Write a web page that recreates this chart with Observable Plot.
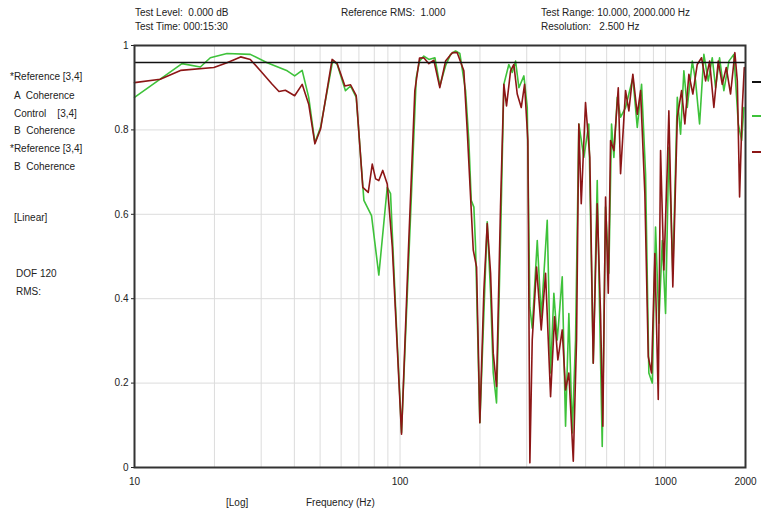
<!DOCTYPE html>
<html><head><meta charset="utf-8">
<script src="https://cdn.jsdelivr.net/npm/d3@7"></script>
<script src="https://cdn.jsdelivr.net/npm/@observablehq/plot@0.6"></script>
<style>
body{margin:0;background:#fff;}
#wrap{position:relative;width:761px;height:512px;overflow:hidden;font-family:"Liberation Sans",Arial,sans-serif;font-size:10px;color:#222;}
#wrap svg{position:absolute;left:0;top:0;}
.t{position:absolute;white-space:pre;line-height:10px;}
.sw{position:absolute;height:2px;width:9px;}
</style></head><body><div id="wrap"></div>
<script>
// Reference [3,4] A Coherence (constant level)
const refALevel = 0.96;

// Reference [3,4] B Coherence (dark red)
const refBFreq = [10, 12.5, 14.9, 19.9, 22.3, 25.1, 27.3, 29.8, 33.0, 35.0, 37.0, 40.1, 42.8, 45.3, 47.8, 50.2, 55.5, 58.0, 62.0, 65.1, 68.4, 72.4, 75.9, 78.6, 80.9, 83.2, 86.1, 89.5, 93.5, 101.3, 107.9, 113.7, 118.4, 122.9, 128.4, 134.1, 141.2, 148.4, 157.3, 164.2, 173.9, 179.1, 188.7, 194.2, 199.8, 206.9, 213.0, 219.3, 224.4, 230.9, 239.0, 246.0, 251.8, 260.8, 268.3, 276.3, 286.1, 294.4, 303.0, 308.3, 314.7, 326.7, 340.2, 353.2, 368.9, 381.9, 393.0, 408.2, 420.1, 432.3, 449.2, 462.1, 471.4, 481.3, 499.5, 518.5, 534.1, 552.9, 569.0, 580.4, 594.3, 608.4, 620.6, 638.7, 663.5, 676.9, 706.9, 727.4, 753.0, 782.4, 805.1, 835.6, 860.6, 885.6, 911.4, 938.6, 957.6, 985.4, 1015, 1029, 1065, 1107, 1149, 1182, 1224, 1267, 1316, 1366, 1415, 1465, 1520, 1579, 1635, 1693, 1757, 1824, 1863, 1900, 1945, 1979];
const refBCoh = [0.912, 0.920, 0.941, 0.948, 0.959, 0.973, 0.967, 0.940, 0.908, 0.891, 0.894, 0.881, 0.908, 0.861, 0.767, 0.802, 0.967, 0.957, 0.904, 0.907, 0.881, 0.664, 0.652, 0.719, 0.684, 0.680, 0.704, 0.672, 0.523, 0.079, 0.538, 0.893, 0.970, 0.971, 0.957, 0.965, 0.900, 0.963, 0.983, 0.983, 0.940, 0.798, 0.515, 0.475, 0.106, 0.420, 0.578, 0.460, 0.271, 0.192, 0.617, 0.908, 0.857, 0.940, 0.955, 0.885, 0.853, 0.908, 0.775, 0.011, 0.302, 0.475, 0.326, 0.460, 0.168, 0.357, 0.255, 0.326, 0.184, 0.224, 0.015, 0.302, 0.814, 0.625, 0.865, 0.735, 0.247, 0.625, 0.365, 0.098, 0.641, 0.413, 0.775, 0.751, 0.900, 0.696, 0.893, 0.845, 0.932, 0.837, 0.893, 0.649, 0.263, 0.224, 0.507, 0.161, 0.751, 0.468, 0.711, 0.845, 0.428, 0.830, 0.893, 0.814, 0.932, 0.885, 0.955, 0.971, 0.916, 0.963, 0.853, 0.963, 0.908, 0.948, 0.885, 0.983, 0.916, 0.641, 0.853, 0.948];

// Control [3,4] B Coherence (green)
const ctrlFreq = [10, 15.1, 17.7, 19.3, 22.3, 27.3, 31.6, 37.6, 40.1, 42.8, 45.3, 47.8, 50.2, 55.8, 58.0, 62.3, 65.1, 68.4, 73.1, 78.1, 83.2, 89.5, 92.1, 96.2, 101.3, 109.5, 115.1, 118.4, 122.9, 128.4, 135.3, 141.2, 148.4, 155.0, 161.8, 168.0, 176.5, 181.6, 185.4, 189.7, 192.5, 199.8, 206.9, 213.0, 219.3, 224.4, 230.9, 239.0, 246.0, 256.9, 264.6, 272.3, 280.3, 292.7, 301.4, 308.3, 314.7, 328.7, 340.2, 358.4, 368.9, 379.6, 390.9, 408.2, 420.1, 432.3, 445.3, 458.1, 471.4, 492.3, 514.0, 534.1, 552.9, 564.0, 577.4, 594.3, 611.5, 626.0, 638.7, 657.8, 676.9, 706.9, 727.4, 753.0, 782.4, 812.2, 840.7, 865.1, 891.0, 916.8, 943.6, 971.8, 1000, 1029, 1065, 1107, 1139, 1172, 1207, 1261, 1297, 1343, 1394, 1448, 1499, 1543, 1597, 1658, 1732, 1808, 1879, 1934, 1972];
const ctrlCoh = [0.877, 0.957, 0.949, 0.971, 0.981, 0.979, 0.959, 0.940, 0.928, 0.941, 0.877, 0.770, 0.806, 0.965, 0.955, 0.893, 0.904, 0.877, 0.633, 0.597, 0.456, 0.664, 0.649, 0.381, 0.083, 0.593, 0.924, 0.963, 0.975, 0.967, 0.971, 0.904, 0.952, 0.979, 0.987, 0.981, 0.893, 0.775, 0.633, 0.617, 0.523, 0.106, 0.365, 0.582, 0.413, 0.224, 0.153, 0.538, 0.908, 0.955, 0.936, 0.963, 0.900, 0.928, 0.853, 0.380, 0.330, 0.538, 0.357, 0.586, 0.224, 0.413, 0.302, 0.452, 0.098, 0.365, 0.082, 0.302, 0.814, 0.735, 0.814, 0.247, 0.680, 0.381, 0.050, 0.617, 0.460, 0.814, 0.735, 0.877, 0.830, 0.853, 0.885, 0.924, 0.806, 0.908, 0.696, 0.224, 0.200, 0.570, 0.342, 0.538, 0.365, 0.759, 0.460, 0.877, 0.790, 0.940, 0.853, 0.963, 0.916, 0.814, 0.979, 0.916, 0.971, 0.900, 0.971, 0.893, 0.963, 0.979, 0.814, 0.775, 0.853];

// Axis ticks
const xTickValues = [10, 100, 1000, 2000];
const xTickLabels = ["10", "100", "1000", "2000"];
const xGridValues = [20,30,40,50,60,70,80,90,100,200,300,400,500,600,700,800,900,1000];
const yTickValues = [0, 0.2, 0.4, 0.6, 0.8, 1];
const yTickLabels = ["0", "0.2", "0.4", "0.6", "0.8", "1"];
const yGridValues = [0.2, 0.4, 0.6, 0.8];

// Texts
const headerTexts = [
  {text: "Test Level:  0.000 dB", x: 135, y: 8},
  {text: "Test Time: 000:15:30", x: 135, y: 22},
  {text: "Reference RMS:  1.000", x: 341, y: 8},
  {text: "Test Range: 10.000, 2000.000 Hz", x: 541, y: 8},
  {text: "Resolution:   2.500 Hz", x: 541, y: 22}
];
const sideTexts = [
  {text: "*Reference [3,4]", x: 10, y: 72},
  {text: "A  Coherence", x: 14, y: 91},
  {text: "Control    [3,4]", x: 14, y: 109},
  {text: "B  Coherence", x: 14, y: 126},
  {text: "*Reference [3,4]", x: 10, y: 144},
  {text: "B  Coherence", x: 14, y: 162},
  {text: "[Linear]", x: 14, y: 213},
  {text: "DOF 120", x: 16, y: 269},
  {text: "RMS:", x: 16, y: 287}
];
const bottomTexts = [
  {text: "[Log]", x: 226, y: 498},
  {text: "Frequency (Hz)", x: 306, y: 498}
];

const colRefA = "#111111", colCtrl = "#3ec23a", colRefB = "#8c1616";
const legendSwatches = [
  {color: colRefA, y: 82},
  {color: colCtrl, y: 116},
  {color: colRefB, y: 152}
];

const refB = refBFreq.map((f, i) => ({f, c: refBCoh[i]}));
const ctrl = ctrlFreq.map((f, i) => ({f, c: ctrlCoh[i]}));

const chart = Plot.plot({
  width: 761, height: 512,
  marginLeft: 134, marginRight: 16, marginTop: 45, marginBottom: 45,
  style: {fontFamily: '"Liberation Sans", Arial, sans-serif', fontSize: "10px", color: "#222", background: "transparent"},
  x: {type: "log", domain: [10, 2000]},
  y: {domain: [0, 1]},
  marks: [
    Plot.ruleX(xGridValues, {stroke: "#dcdcdc", strokeWidth: 1}),
    Plot.ruleY(yGridValues, {stroke: "#dcdcdc", strokeWidth: 1}),
    Plot.axisX(xTickValues, {tickSize: 0, tickPadding: 10, tickFormat: (d, i) => xTickLabels[xTickValues.indexOf(d)], label: null, fill: "#222"}),
    Plot.axisY(yTickValues, {tickSize: 3, tickPadding: 3, tickFormat: (d) => yTickLabels[yTickValues.indexOf(d)], label: null, fill: "#222"}),
    Plot.line(ctrl, {x: "f", y: "c", stroke: colCtrl, strokeWidth: 1.6}),
    Plot.line(refB, {x: "f", y: "c", stroke: colRefB, strokeWidth: 1.6}),
    Plot.ruleY([refALevel], {stroke: colRefA, strokeWidth: 1.5}),
    Plot.frame({stroke: "#333", strokeWidth: 2})
  ]
});

const wrap = document.getElementById("wrap");
wrap.appendChild(chart);
for (const t of [...headerTexts, ...sideTexts, ...bottomTexts]) {
  const d = document.createElement("div");
  d.className = "t";
  d.textContent = t.text;
  d.style.left = t.x + "px";
  d.style.top = t.y + "px";
  wrap.appendChild(d);
}
for (const s of legendSwatches) {
  const d = document.createElement("div");
  d.className = "sw";
  d.style.left = "752px";
  d.style.top = (s.y - 1) + "px";
  d.style.background = s.color;
  wrap.appendChild(d);
}
</script></body></html>
